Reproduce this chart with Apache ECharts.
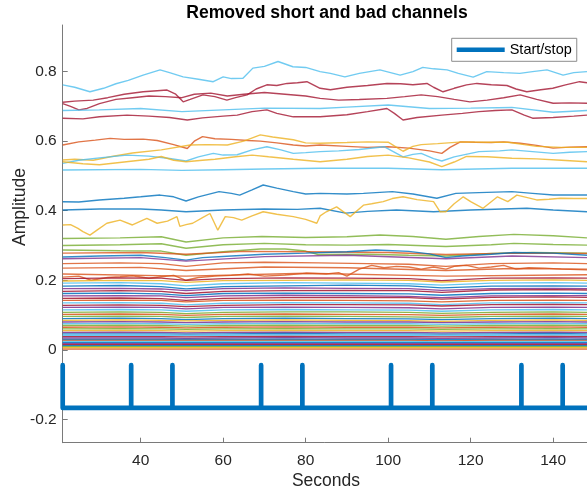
<!DOCTYPE html>
<html>
<head>
<meta charset="utf-8">
<script src="https://cdn.jsdelivr.net/npm/echarts@6/dist/echarts.min.js"></script>
<style>
html,body{margin:0;padding:0;background:#fff;}
#chart{width:587px;height:490px;}
</style>
</head>
<body>
<div id="chart"></div>
<script>
// ---------- axis / tick values ----------
const xMin = 21.1, xMax = 148.2;
const yMin = -0.267, yMax = 0.934;
const xTicks = [40, 60, 80, 100, 120, 140];
const yTicks = [-0.2, 0, 0.2, 0.4, 0.6, 0.8];
const titleText = 'Removed short and bad channels';
const xLabelText = 'Seconds';
const yLabelText = 'Amplitude';

// ---------- start/stop trace ----------
const stimTimes = [37.7, 47.7, 69.2, 79.2, 100.7, 110.7, 132.3, 142.3];
const stimLow = -0.167;
const stimHigh = -0.044;

// ---------- upper channels: [seconds, amplitude] ----------
const ch01 = [[21.1,0.762],[24,0.755],[27.7,0.742],[31,0.752],[34,0.765],[37,0.775],[40.6,0.79],[44.7,0.805],[47,0.797],[50.3,0.785],[54,0.778],[57.6,0.771],[60,0.785],[62,0.78],[64.8,0.781],[67.2,0.81],[70,0.815],[73.3,0.829],[76.9,0.814],[80,0.812],[83.5,0.8],[86,0.795],[89.5,0.785],[93,0.795],[98,0.805],[102.9,0.79],[106,0.8],[108.4,0.812],[111,0.808],[114.3,0.805],[117,0.795],[120.6,0.784],[123.9,0.8],[128,0.797],[131.9,0.795],[135,0.8],[138.5,0.805],[142.4,0.79],[145,0.797],[148.2,0.8]];
const ch02 = [[21.1,0.712],[24,0.715],[28.5,0.718],[32,0.725],[36,0.735],[40.6,0.742],[44,0.745],[46.4,0.747],[48.5,0.735],[50.3,0.713],[52,0.72],[55.1,0.733],[58,0.728],[60.9,0.718],[63,0.725],[65.8,0.733],[68,0.75],[70.6,0.762],[73,0.76],[75.5,0.766],[78,0.768],[80.3,0.771],[83.5,0.752],[86,0.748],[90,0.755],[95,0.76],[99.7,0.766],[103,0.765],[106,0.762],[109.4,0.766],[111,0.755],[113.3,0.742],[116,0.752],[119,0.762],[121.5,0.766],[125,0.762],[128.8,0.76],[131,0.75],[133.6,0.742],[137,0.748],[139.9,0.752],[143,0.762],[146.4,0.771],[148.2,0.768]];
const ch03 = [[21.1,0.708],[23,0.7],[25,0.69],[27,0.694],[30,0.708],[34,0.72],[38,0.725],[42,0.73],[46,0.728],[50,0.725],[53,0.735],[57,0.738],[61,0.73],[65,0.735],[70,0.74],[75,0.735],[80,0.73],[83.5,0.723],[88,0.718],[93,0.72],[99.7,0.723],[104,0.728],[108,0.733],[112,0.728],[116,0.72],[119.8,0.713],[124,0.718],[128,0.725],[132,0.733],[136,0.72],[140,0.709],[144,0.71],[148.2,0.709]];
const ch04 = [[21.1,0.688],[30,0.69],[40,0.694],[50,0.685],[60,0.69],[70,0.695],[83.5,0.694],[90,0.698],[100,0.704],[110,0.694],[120,0.695],[130,0.697],[140,0.683],[148.2,0.688]];
const ch05 = [[21.1,0.666],[26,0.664],[30,0.67],[36.7,0.675],[42,0.672],[47,0.668],[51.3,0.661],[55,0.667],[60,0.672],[63.4,0.675],[67,0.685],[70.6,0.69],[73,0.68],[77,0.67],[83.5,0.67],[90,0.676],[95,0.685],[99.7,0.694],[101.5,0.68],[103.6,0.661],[107,0.668],[113,0.675],[118,0.68],[122,0.685],[126,0.688],[130,0.69],[133,0.675],[135,0.666],[140,0.668],[145,0.672],[148.2,0.675]];
const ch06 = [[21.1,0.589],[25,0.598],[29,0.603],[32.6,0.608],[36,0.605],[40.6,0.606],[44,0.602],[48,0.59],[51.3,0.579],[53,0.6],[55,0.613],[58,0.607],[62,0.605],[66,0.602],[69,0.6],[73,0.595],[77,0.589],[80,0.586],[83.5,0.589],[90,0.585],[95,0.582],[100,0.584],[105,0.58],[110,0.572],[113,0.565],[115,0.582],[117.5,0.598],[121,0.597],[125,0.596],[128,0.598],[132,0.594],[136,0.588],[140,0.58],[144,0.583],[148.2,0.584]];
const ch07 = [[21.1,0.546],[24,0.548],[28.5,0.545],[33,0.556],[38,0.566],[45,0.575],[52,0.589],[56,0.59],[61,0.589],[65,0.6],[69,0.618],[72,0.612],[77,0.604],[80,0.595],[83.5,0.594],[90,0.596],[95,0.598],[100,0.597],[103.6,0.571],[106,0.585],[108,0.59],[112,0.593],[118,0.598],[124,0.597],[129,0.597],[133,0.59],[136,0.585],[142,0.582],[148.2,0.582]];
const ch08 = [[21.1,0.536],[25,0.545],[30,0.552],[36.7,0.56],[42,0.557],[47,0.55],[51,0.543],[54,0.555],[57.6,0.565],[60,0.56],[63.4,0.561],[67,0.575],[70.6,0.584],[74,0.575],[77,0.565],[80,0.567],[83.5,0.57],[88,0.572],[93,0.576],[99,0.584],[103.6,0.555],[106,0.562],[108,0.565],[111,0.55],[113,0.543],[116,0.555],[122,0.57],[127,0.572],[130,0.575],[135,0.57],[140,0.565],[144,0.568],[148.2,0.57]];
const ch09 = [[21.1,0.541],[26,0.535],[30,0.532],[36,0.54],[42,0.548],[45,0.556],[48,0.545],[51,0.541],[55,0.545],[58,0.548],[63,0.555],[67,0.56],[71,0.555],[77,0.548],[83.5,0.541],[90,0.548],[95,0.556],[100,0.56],[105,0.552],[110,0.54],[113,0.527],[116,0.54],[119,0.556],[124,0.555],[130,0.551],[136,0.549],[142,0.545],[148.2,0.541]];
const ch10 = [[21.1,0.517],[40,0.519],[50,0.516],[60,0.518],[70,0.52],[83.5,0.522],[100,0.522],[113,0.518],[130,0.522],[148.2,0.522]];
const ch11 = [[21.1,0.426],[25,0.425],[30,0.431],[36,0.436],[40,0.44],[44.7,0.445],[48,0.44],[51,0.428],[54,0.44],[59,0.455],[62,0.45],[64,0.445],[67,0.46],[69.7,0.474],[73,0.465],[77,0.455],[80,0.448],[83.5,0.45],[90,0.448],[94,0.45],[101,0.455],[106,0.448],[111.8,0.436],[116.4,0.45],[122,0.452],[130,0.455],[135,0.45],[140,0.445],[148.2,0.445]];
const ch12 = [[21.1,0.402],[30,0.405],[40,0.405],[45,0.402],[51,0.397],[60,0.402],[70,0.405],[78,0.404],[83.5,0.407],[89.7,0.393],[95,0.398],[102,0.402],[111,0.397],[120,0.402],[133.6,0.407],[140,0.402],[148.2,0.397]];
const ch13 = [[21.1,0.359],[23,0.36],[24.8,0.349],[26,0.34],[27.7,0.33],[29.5,0.345],[31.8,0.364],[35,0.373],[38,0.359],[41.5,0.378],[44,0.364],[46.5,0.37],[48.8,0.383],[49.5,0.355],[51,0.36],[52.6,0.364],[55,0.38],[56.8,0.392],[58.7,0.344],[60.5,0.383],[62.5,0.38],[64.5,0.373],[67,0.385],[69.7,0.397],[73,0.39],[77,0.383],[80,0.375],[82.7,0.364],[83.5,0.385],[85,0.397],[87.5,0.411],[90.8,0.383],[94,0.416],[96,0.42],[98.8,0.426],[101,0.435],[103.6,0.44],[107,0.432],[111,0.426],[112.6,0.397],[114,0.397],[116,0.42],[118.2,0.44],[120,0.426],[123,0.407],[126.5,0.44],[129,0.426],[131.2,0.445],[134,0.437],[136,0.431],[139,0.433],[141.8,0.436],[145,0.435],[148.2,0.435]];
const ch14 = [[21.1,0.32],[35,0.322],[45,0.325],[51,0.31],[60,0.322],[69.4,0.326],[80,0.323],[90,0.325],[98,0.33],[106,0.326],[114,0.318],[122,0.326],[130.5,0.332],[140,0.328],[148.2,0.322]];
const ch15 = [[21.1,0.3],[35,0.302],[45,0.305],[51,0.292],[60,0.302],[70,0.306],[80,0.302],[90,0.301],[100,0.303],[114,0.297],[125,0.302],[130.5,0.306],[140,0.303],[148.2,0.301]];
const ch16 = [[21.1,0.287],[35,0.285],[45,0.284],[51,0.272],[60,0.282],[69,0.29],[75,0.29],[80,0.284],[83,0.274],[95,0.275],[105,0.272],[114,0.27],[125,0.277],[135,0.28],[148.2,0.278]];
const ch17 = [[21.1,0.278],[40,0.28],[51,0.275],[65,0.283],[80,0.282],[100,0.28],[114,0.274],[130,0.278],[148.2,0.277]];
const ch18 = [[21.1,0.267],[30,0.27],[40,0.272],[46,0.265],[51,0.258],[55,0.265],[62,0.27],[70,0.275],[80,0.278],[90,0.282],[97,0.287],[105,0.283],[110,0.276],[114,0.265],[118,0.27],[125,0.275],[130.5,0.28],[140,0.278],[148.2,0.272]];
const ch19 = [[21.1,0.262],[40,0.265],[51,0.255],[70,0.268],[90,0.272],[114,0.262],[130,0.27],[148.2,0.265]];
const ch20 = [[21.1,0.248],[35,0.25],[45,0.248],[51,0.24],[60,0.25],[70,0.252],[83,0.25],[95,0.248],[105,0.246],[114,0.24],[125,0.248],[140,0.25],[148.2,0.248]];
const ch21 = [[21.1,0.235],[40,0.237],[51,0.228],[70,0.238],[90,0.236],[114,0.228],[130,0.234],[148.2,0.232]];
const ch22 = [[21.1,0.209],[25,0.212],[28,0.2],[32,0.208],[35,0.21],[38,0.213],[42,0.206],[45,0.21],[48,0.214],[51,0.2],[54,0.208],[58,0.212],[62,0.214],[66,0.218],[70,0.212],[75,0.215],[80,0.22],[85,0.218],[88,0.222],[90,0.212],[93,0.232],[96,0.243],[99,0.236],[102,0.24],[105,0.238],[108,0.232],[111,0.238],[114,0.232],[116,0.24],[119,0.243],[122,0.235],[125,0.238],[128,0.243],[131,0.232],[134,0.236],[138,0.235],[142,0.232],[148.2,0.23]];
const ch23 = [[21.1,0.218],[51,0.212],[80,0.22],[114,0.212],[148.2,0.216]];

// ---------- lower (dense) channels, sampled at denseTimes ----------
const denseTimes = [21.1, 35, 45, 51, 60, 75, 90, 105, 113, 125, 140, 148.2];
const d01 = [0.205,0.207,0.206,0.2,0.205,0.207,0.206,0.205,0.199,0.206,0.207,0.206];
const d02 = [0.198,0.2,0.199,0.194,0.199,0.2,0.201,0.2,0.195,0.2,0.201,0.2];
const d03 = [0.192,0.193,0.19,0.184,0.19,0.193,0.192,0.19,0.186,0.192,0.193,0.192];
const d04 = [0.183,0.185,0.182,0.175,0.182,0.184,0.186,0.184,0.178,0.183,0.184,0.183];
const d05 = [0.176,0.177,0.175,0.17,0.176,0.178,0.177,0.176,0.171,0.176,0.177,0.176];
const d06 = [0.168,0.17,0.168,0.162,0.168,0.17,0.171,0.17,0.165,0.172,0.173,0.172];
const d07 = [0.162,0.163,0.161,0.156,0.162,0.163,0.162,0.161,0.157,0.162,0.163,0.162];
const d08 = [0.155,0.156,0.155,0.15,0.155,0.157,0.156,0.154,0.15,0.155,0.156,0.156];
const d09 = [0.148,0.149,0.147,0.142,0.148,0.15,0.151,0.15,0.146,0.151,0.152,0.151];
const d10 = [0.142,0.143,0.142,0.138,0.142,0.143,0.142,0.141,0.138,0.142,0.143,0.142];
const d11 = [0.135,0.136,0.134,0.129,0.134,0.136,0.135,0.134,0.13,0.135,0.136,0.135];
const d12 = [0.128,0.129,0.128,0.124,0.128,0.13,0.13,0.129,0.126,0.13,0.131,0.13];
const d13 = [0.122,0.123,0.122,0.118,0.122,0.123,0.122,0.121,0.118,0.122,0.123,0.122];
const d14 = [0.115,0.116,0.115,0.111,0.115,0.116,0.115,0.114,0.111,0.115,0.116,0.115];
const d15 = [0.108,0.109,0.108,0.104,0.108,0.109,0.109,0.108,0.105,0.108,0.109,0.108];
const d16 = [0.102,0.103,0.102,0.099,0.102,0.103,0.102,0.101,0.099,0.102,0.103,0.102];
const d17 = [0.096,0.097,0.096,0.093,0.096,0.097,0.096,0.095,0.093,0.096,0.097,0.096];
const d18 = [0.09,0.091,0.09,0.087,0.09,0.091,0.09,0.089,0.087,0.09,0.091,0.09];
const d19 = [0.085,0.086,0.085,0.083,0.085,0.086,0.085,0.084,0.082,0.085,0.086,0.085];
const d20 = [0.08,0.081,0.08,0.078,0.08,0.081,0.08,0.08,0.078,0.08,0.081,0.08];
const d21 = [0.075,0.076,0.075,0.073,0.075,0.076,0.075,0.075,0.073,0.075,0.076,0.075];
const d22 = [0.07,0.071,0.07,0.068,0.07,0.071,0.07,0.07,0.068,0.07,0.071,0.07];
const d23 = [0.065,0.066,0.065,0.063,0.065,0.066,0.065,0.065,0.063,0.065,0.066,0.065];
const d24 = [0.06,0.061,0.06,0.059,0.06,0.061,0.06,0.06,0.059,0.06,0.061,0.06];
const d25 = [0.055,0.056,0.055,0.054,0.055,0.056,0.055,0.055,0.054,0.055,0.056,0.055];
const d26 = [0.05,0.051,0.05,0.049,0.05,0.051,0.05,0.05,0.049,0.05,0.051,0.05];
const d27 = [0.046,0.046,0.046,0.045,0.046,0.047,0.046,0.046,0.045,0.046,0.047,0.046];
const d28 = [0.042,0.042,0.042,0.041,0.042,0.043,0.042,0.042,0.041,0.042,0.043,0.042];
const d29 = [0.038,0.038,0.038,0.037,0.038,0.039,0.038,0.038,0.037,0.038,0.039,0.038];
const d30 = [0.034,0.034,0.034,0.033,0.034,0.035,0.034,0.034,0.033,0.034,0.035,0.034];
const d31 = [0.03,0.03,0.03,0.03,0.03,0.031,0.03,0.03,0.029,0.03,0.031,0.03];
const d32 = [0.027,0.027,0.027,0.027,0.027,0.027,0.027,0.027,0.026,0.027,0.027,0.027];
const d33 = [0.024,0.024,0.024,0.024,0.024,0.024,0.024,0.024,0.023,0.024,0.024,0.024];
const d34 = [0.021,0.021,0.021,0.021,0.021,0.021,0.021,0.021,0.021,0.021,0.021,0.021];
const d35 = [0.018,0.018,0.018,0.018,0.018,0.018,0.018,0.018,0.018,0.018,0.018,0.018];
const d36 = [0.015,0.015,0.015,0.015,0.015,0.015,0.015,0.015,0.015,0.015,0.015,0.015];
const d37 = [0.012,0.012,0.012,0.012,0.012,0.012,0.012,0.012,0.012,0.012,0.012,0.012];
const d38 = [0.009,0.009,0.009,0.009,0.009,0.009,0.009,0.009,0.009,0.009,0.009,0.009];
const d39 = [0.006,0.006,0.006,0.006,0.006,0.006,0.006,0.006,0.006,0.006,0.006,0.006];
const d40 = [0.002,0.002,0.002,0.002,0.002,0.002,0.002,0.002,0.002,0.002,0.002,0.002];

// MATLAB default line colours
const C = {blue:'#0072BD', orange:'#D95319', yellow:'#EDB120', purple:'#7E2F8E', green:'#77AC30', lblue:'#4DBEEE', dred:'#A2142F'};

const upper = [
  [ch01,C.lblue],[ch02,C.dred],[ch03,C.dred],[ch04,C.lblue],[ch05,C.dred],
  [ch06,C.orange],[ch07,C.yellow],[ch08,C.lblue],[ch09,C.yellow],[ch10,C.lblue],
  [ch11,C.blue],[ch12,C.blue],[ch13,C.yellow],[ch14,C.green],[ch15,C.green],
  [ch16,C.green],[ch17,C.orange],[ch18,C.blue],[ch19,C.purple],[ch20,C.orange],
  [ch21,C.orange],[ch22,C.orange],[ch23,C.orange]
];
const dense = [
  [d01,C.dred],[d02,C.yellow],[d03,C.lblue],[d04,C.blue],[d05,C.purple],[d06,C.dred],
  [d07,C.blue],[d08,C.purple],[d09,C.dred],[d10,C.orange],[d11,C.lblue],[d12,C.dred],
  [d13,C.purple],[d14,C.lblue],[d15,C.green],[d16,C.orange],[d17,C.green],[d18,C.blue],
  [d19,C.yellow],[d20,C.purple],[d21,C.lblue],[d22,C.green],[d23,C.orange],[d24,C.green],
  [d25,C.yellow],[d26,C.purple],[d27,C.blue],[d28,C.lblue],[d29,C.dred],[d30,C.purple],
  [d31,C.blue],[d32,C.orange],[d33,C.lblue],[d34,C.blue],[d35,C.purple],[d36,C.dred],
  [d37,C.blue],[d38,C.green],[d39,C.yellow],[d40,C.orange]
];

const series = [];
function addLine(data, color, width, opacity) {
  series.push({
    type:'line', data:data, symbol:'none', showSymbol:false, silent:true,
    color:color, lineStyle:{color:color, width:width, opacity:opacity}, z:2
  });
}
upper.forEach(([d,c]) => addLine(d, c, 1.4, 0.8));
dense.forEach(([v,c]) => addLine(denseTimes.map((t,i)=>[t, v[i]]), c, 1.3, 0.85));

// start/stop trace built from the stimulus onsets
const stimData = [[xMin, stimHigh],[xMin, stimLow]];
stimTimes.forEach(t => { stimData.push([t, stimLow],[t, stimHigh],[t, stimLow]); });
stimData.push([xMax, stimLow]);
series.push({
  name:'Start/stop', type:'line', data:stimData, symbol:'none', showSymbol:false,
  color:C.blue, clip:false, silent:true,
  lineStyle:{color:C.blue, width:4.7, cap:'round', join:'round'}, z:5
});

const FONT = '"Liberation Sans", Arial, Helvetica, sans-serif';
const AX = '#7a7a7a';
const GL = 62.7, GT = 25, GB = 442.7;

const chart = echarts.init(document.getElementById('chart'), null, {renderer:'canvas'});
chart.setOption({
  animation:false,
  backgroundColor:'#ffffff',
  legend:{
    data:['Start/stop'], left:451.7, top:38.3, orient:'vertical',
    icon:'rect', itemWidth:48, itemHeight:4.5,
    padding:[4,5,4,5], backgroundColor:'#fff', borderColor:'#8c8c8c', borderWidth:1, borderRadius:0,
    textStyle:{fontFamily:FONT, fontSize:14.5, color:'#000', lineHeight:15}
  },
  grid:{left:GL, top:GT, right:0, bottom:490-GB, containLabel:false, outerBoundsMode:'none'},
  xAxis:{
    type:'value', min:xMin, max:xMax,
    axisLine:{show:true, onZero:false, lineStyle:{color:AX, width:1}},
    axisTick:{show:true, inside:true, length:5, lineStyle:{color:AX}, customValues:xTicks},
    axisLabel:{fontFamily:FONT, fontSize:15.5, color:'#262626', margin:10, customValues:xTicks,
      formatter:v=>String(v)},
    splitLine:{show:false}
  },
  yAxis:{
    type:'value', min:yMin, max:yMax,
    axisLine:{show:true, onZero:false, lineStyle:{color:AX, width:1}},
    axisTick:{show:true, inside:true, length:5, lineStyle:{color:AX}, customValues:yTicks},
    axisLabel:{fontFamily:FONT, fontSize:15.5, color:'#262626', margin:6, customValues:yTicks,
      formatter:v=>String(Math.round(v*10)/10)},
    splitLine:{show:false}
  },
  graphic:[
    {type:'text', left:null, x:327, y:13, silent:true, z:10,
     style:{text:titleText, textAlign:'center', textVerticalAlign:'middle',
            font:'bold 17.6px ' + FONT, fill:'#000'}},
    {type:'text', x:326, y:481, silent:true, z:10,
     style:{text:xLabelText, textAlign:'center', textVerticalAlign:'middle',
            font:'17.5px ' + FONT, fill:'#262626'}},
    {type:'text', x:20, y:207, rotation:Math.PI/2, silent:true, z:10,
     style:{text:yLabelText, textAlign:'center', textVerticalAlign:'middle',
            font:'17.5px ' + FONT, fill:'#262626'}}
  ],
  series:series
});
</script>
</body>
</html>
